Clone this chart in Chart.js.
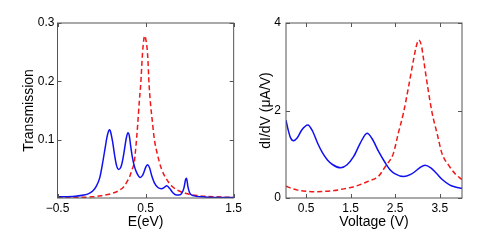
<!DOCTYPE html>
<html>
<head>
<meta charset="utf-8">
<script src="https://cdn.jsdelivr.net/npm/chart.js@4"></script>
<style>
  html, body { margin: 0; padding: 0; background: #fff; }
  #wrap { position: relative; width: 491px; height: 245px; }
  .pane { position: absolute; top: 0; height: 245px; }
</style>
</head>
<body>
<div id="wrap">
  <div class="pane" style="left:0;width:245px"><canvas id="transChart"></canvas></div>
  <div class="pane" style="left:245px;width:246px"><canvas id="didvChart"></canvas></div>
</div>
<script>
// left panel: transmission vs energy
const transBlueE = [-0.5, -0.3, -0.2, -0.14, -0.1, -0.06, -0.02, 0.01, 0.04, 0.06, 0.08, 0.09, 0.1, 0.125, 0.15, 0.17, 0.195, 0.22, 0.24, 0.26, 0.28, 0.3, 0.315, 0.33, 0.35, 0.37, 0.4, 0.44, 0.47, 0.5, 0.52, 0.545, 0.57, 0.6, 0.64, 0.68, 0.72, 0.74, 0.77, 0.81, 0.85, 0.88, 0.91, 0.935, 0.955, 0.965, 0.98, 1.0, 1.04, 1.15, 1.3, 1.5];
const transBlueT = [0.002, 0.003, 0.005, 0.008, 0.012, 0.02, 0.035, 0.058, 0.085, 0.103, 0.115, 0.117, 0.115, 0.097, 0.072, 0.056, 0.049, 0.053, 0.065, 0.083, 0.102, 0.112, 0.107, 0.09, 0.07, 0.056, 0.043, 0.035, 0.04, 0.052, 0.057, 0.052, 0.038, 0.026, 0.018, 0.016, 0.019, 0.021, 0.017, 0.009, 0.005, 0.005, 0.008, 0.017, 0.032, 0.034, 0.02, 0.009, 0.004, 0.002, 0.001, 0.001];
const transRedE = [-0.5, -0.3, -0.1, 0.0, 0.1, 0.2, 0.25, 0.29, 0.32, 0.35, 0.37, 0.39, 0.41, 0.43, 0.445, 0.465, 0.48, 0.49, 0.5, 0.522, 0.541, 0.56, 0.575, 0.6, 0.631, 0.68, 0.743, 0.8, 0.856, 0.95, 1.1, 1.3, 1.5];
const transRedT = [0.0005, 0.001, 0.002, 0.004, 0.007, 0.013, 0.019, 0.028, 0.037, 0.05, 0.06, 0.088, 0.125, 0.168, 0.195, 0.248, 0.272, 0.278, 0.274, 0.248, 0.191, 0.155, 0.134, 0.1, 0.077, 0.05, 0.031, 0.02, 0.014, 0.008, 0.004, 0.002, 0.001];
const transXTicks = [-0.5, 0.5, 1.5];
const transYTicks = [0.1, 0.2, 0.3];

// right panel: dI/dV vs voltage
const didvBlueV = [0.05, 0.1, 0.15, 0.22, 0.3, 0.4, 0.54, 0.65, 0.76, 0.87, 0.98, 1.1, 1.28, 1.42, 1.57, 1.72, 1.87, 1.98, 2.13, 2.28, 2.39, 2.5, 2.69, 2.85, 2.94, 3.05, 3.17, 3.3, 3.43, 3.57, 3.72, 3.85, 4.0];
const didvBlueI = [1.78, 1.55, 1.38, 1.31, 1.37, 1.55, 1.67, 1.52, 1.25, 1.03, 0.87, 0.76, 0.69, 0.76, 0.95, 1.26, 1.48, 1.36, 1.06, 0.8, 0.64, 0.55, 0.49, 0.54, 0.6, 0.69, 0.75, 0.69, 0.56, 0.41, 0.3, 0.25, 0.22];
const didvRedV = [0.05, 0.2, 0.31, 0.5, 0.69, 0.9, 1.13, 1.3, 1.5, 1.7, 1.87, 1.94, 2.06, 2.13, 2.28, 2.46, 2.57, 2.685, 2.8, 2.91, 2.97, 3.03, 3.09, 3.14, 3.23, 3.33, 3.44, 3.55, 3.72, 3.85, 4.0];
const didvRedI = [0.27, 0.21, 0.18, 0.155, 0.145, 0.15, 0.17, 0.2, 0.24, 0.3, 0.37, 0.4, 0.45, 0.5, 0.72, 1.02, 1.48, 1.94, 2.54, 3.15, 3.45, 3.61, 3.48, 3.15, 2.54, 1.94, 1.48, 1.02, 0.72, 0.55, 0.42];
const didvXTicks = [0.5, 1.5, 2.5, 3.5];
const didvYTicks = [0, 2, 4];

const FONT = '"Liberation Sans", Arial, Helvetica, sans-serif';
const BLUE = '#1010f0';
const RED  = '#f01818';

const toPts = (xs, ys) => xs.map((x, i) => ({ x, y: ys[i] }));
const fmtTick = v => (v < 0 ? '\u2212' + Math.abs(v) : String(v));

// MATLAB-ish box with inward tick marks on all four sides
const boxPlugin = {
  id: 'box',
  afterDatasetsDraw(chart) {
    const { ctx, chartArea: a, scales } = chart;
    const tl = 4;
    ctx.save();
    ctx.strokeStyle = '#555';
    ctx.lineWidth = 1;
    ctx.strokeRect(a.left, a.top, a.right - a.left, a.bottom - a.top);
    ctx.beginPath();
    scales.x.ticks.forEach(t => {
      const px = Math.round(scales.x.getPixelForValue(t.value)) + 0.5;
      ctx.moveTo(px, a.bottom); ctx.lineTo(px, a.bottom - tl);
      ctx.moveTo(px, a.top);    ctx.lineTo(px, a.top + tl);
    });
    scales.y.ticks.forEach(t => {
      const py = Math.round(scales.y.getPixelForValue(t.value)) + 0.5;
      ctx.moveTo(a.left, py);  ctx.lineTo(a.left + tl, py);
      ctx.moveTo(a.right, py); ctx.lineTo(a.right - tl, py);
    });
    ctx.stroke();
    ctx.restore();
  }
};

function makePanel(id, cfg) {
  return new Chart(document.getElementById(id), {
    type: 'line',
    data: {
      datasets: [
        { data: toPts(cfg.blueX, cfg.blueY), borderColor: BLUE, borderWidth: 1.5, pointRadius: 0, cubicInterpolationMode: 'monotone' },
        { data: toPts(cfg.redX, cfg.redY), borderColor: RED, borderWidth: 1.5, borderDash: [5, 3], pointRadius: 0, cubicInterpolationMode: 'monotone' },
      ],
    },
    options: {
      animation: false, responsive: true, maintainAspectRatio: false,
      layout: { padding: cfg.pad },
      plugins: { legend: { display: false }, tooltip: { enabled: false } },
      scales: {
        x: {
          type: 'linear', min: cfg.xMin, max: cfg.xMax,
          afterBuildTicks: s => { s.ticks = cfg.xTicks.map(value => ({ value })); },
          afterFit: s => { s.height = 47; },
          grid: { display: false, drawTicks: false }, border: { display: false },
          ticks: { color: '#000', padding: 3, font: { family: FONT, size: 12 }, callback: fmtTick, maxRotation: 0, autoSkip: false },
          title: { display: true, text: cfg.xTitle, color: '#000', font: { family: FONT, size: 14 }, padding: { top: 0, bottom: 14 } },
        },
        y: {
          min: cfg.yMin, max: cfg.yMax,
          afterBuildTicks: s => { s.ticks = cfg.yTicks.map(value => ({ value })); },
          afterFit: s => { s.width = cfg.yWidth; },
          grid: { display: false, drawTicks: false }, border: { display: false },
          ticks: { color: '#000', padding: cfg.yTickPad, font: { family: FONT, size: 12 }, callback: fmtTick },
          title: { display: true, text: cfg.yTitle, color: '#000', font: { family: FONT, size: 14 }, padding: { top: cfg.yTitlePad, bottom: 0 } },
        },
      },
    },
    plugins: [boxPlugin],
  });
}

makePanel('transChart', {
  blueX: transBlueE, blueY: transBlueT, redX: transRedE, redY: transRedT,
  xMin: -0.5, xMax: 1.5, yMin: 0, yMax: 0.3,
  xTicks: transXTicks, yTicks: transYTicks,
  xTitle: 'E(eV)', yTitle: 'Transmission',
  pad: { top: 23, right: 9.5, left: 0, bottom: 0 },
  yWidth: 57.5, yTickPad: 3, yTitlePad: 21,
});

makePanel('didvChart', {
  blueX: didvBlueV, blueY: didvBlueI, redX: didvRedV, redY: didvRedI,
  xMin: 0.05, xMax: 4, yMin: 0, yMax: 4,
  xTicks: didvXTicks, yTicks: didvYTicks,
  xTitle: 'Voltage (V)', yTitle: 'dI/dV (\u03bcA/V)',
  pad: { top: 23, right: 29, left: 0, bottom: 0 },
  yWidth: 41, yTickPad: 5, yTitlePad: 13,
});
</script>
</body>
</html>
